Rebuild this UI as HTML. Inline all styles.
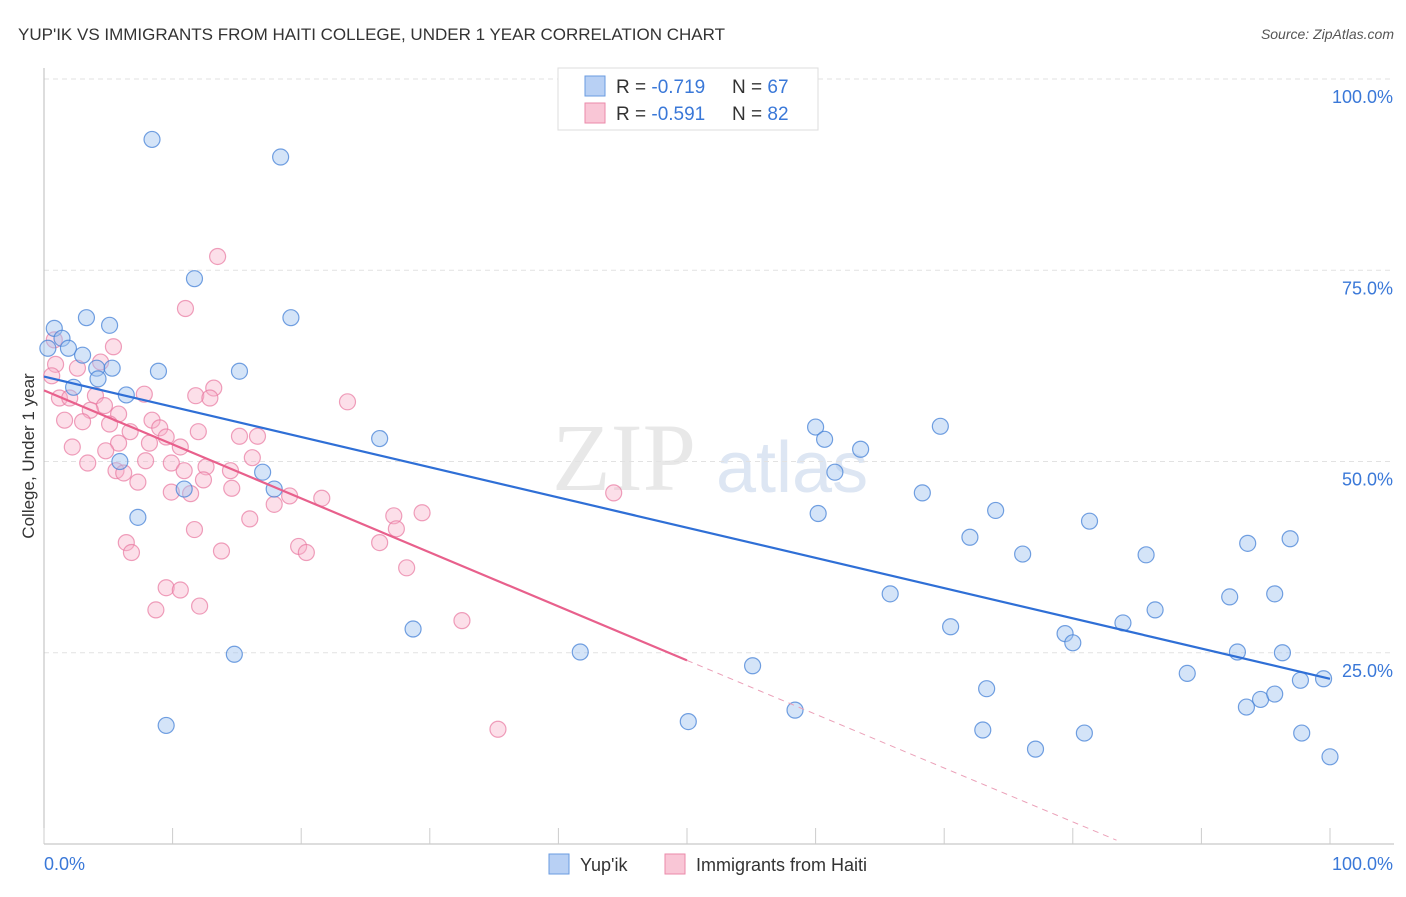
<!DOCTYPE html>
<html><head><meta charset="utf-8"><style>
body{margin:0;background:#fff;font-family:"Liberation Sans",sans-serif}
</style></head><body>
<svg id="c" width="1406" height="892" xmlns="http://www.w3.org/2000/svg">
<text x="18" y="40" font-size="17" fill="#333">YUP'IK VS IMMIGRANTS FROM HAITI COLLEGE, UNDER 1 YEAR CORRELATION CHART</text>
<text x="1394" y="39" font-size="14" fill="#555" font-style="italic" text-anchor="end">Source: ZipAtlas.com</text>
<text x="552" y="490" font-size="96" fill="#e8e8e8" font-family="Liberation Serif">ZIP</text>
<text x="716" y="492" font-size="72" fill="#dde6f3">atlas</text>
<text x="34" y="456" font-size="17" fill="#333" text-anchor="middle" transform="rotate(-90 34 456)">College, Under 1 year</text>
<g id="grid"></g><g id="pts"></g><g id="lines"></g>
<g>
<rect x="558" y="68" width="260" height="62" fill="#fff" stroke="#ddd"/>
<rect x="585" y="76" width="20" height="20" fill="#b8d0f4" stroke="#6a9be0"/>
<text x="616" y="93" font-size="19" fill="#333">R = <tspan fill="#3a78d8">-0.719</tspan></text>
<text x="732" y="93" font-size="19" fill="#333">N = <tspan fill="#3a78d8">67</tspan></text>
<rect x="585" y="103" width="20" height="20" fill="#f9c6d6" stroke="#eb8aaa"/>
<text x="616" y="120" font-size="19" fill="#333">R = <tspan fill="#3a78d8">-0.591</tspan></text>
<text x="732" y="120" font-size="19" fill="#333">N = <tspan fill="#3a78d8">82</tspan></text>
</g>
<g>
<rect x="549" y="854" width="20" height="20" fill="#b8d0f4" stroke="#6a9be0"/>
<text x="580" y="871" font-size="18" fill="#333">Yup'ik</text>
<rect x="665" y="854" width="20" height="20" fill="#f9c6d6" stroke="#eb8aaa"/>
<text x="696" y="871" font-size="18" fill="#333">Immigrants from Haiti</text>
</g>
</svg>
<script>
const yTicks=[100,75,50,25];
const xTickCount=[0,10,20,30,40,50,60,70,80,90,100];
const blueX=[8.4,18.4,11.7,19.2,3.3,5.1,0.8,1.4,0.3,1.9,3,4.1,5.3,8.9,15.2,4.2,2.3,6.4,26.1,5.9,17,10.9,17.9,7.3,14.8,9.5,28.7,41.7,50.1,55.1,58.4,60,60.7,60.2,61.5,63.5,65.8,68.3,69.7,70.5,72,73.3,73,74,76.1,77.1,79.4,80,80.9,81.3,83.9,85.7,86.4,88.9,92.2,92.8,93.6,93.5,94.6,95.7,95.7,96.3,96.9,97.7,97.8,99.5,100];
const blueY=[92.1,89.8,73.9,68.8,68.8,67.8,67.4,66.1,64.8,64.8,63.9,62.2,62.2,61.8,61.8,60.8,59.7,58.7,53,50,48.6,46.4,46.4,42.7,24.8,15.5,28.1,25.1,16,23.3,17.5,54.5,52.9,43.2,48.6,51.6,32.7,45.9,54.6,28.4,40.1,20.3,14.9,43.6,37.9,12.4,27.5,26.3,14.5,42.2,28.9,37.8,30.6,22.3,32.3,25.1,39.3,17.9,18.9,19.6,32.7,25,39.9,21.4,14.5,21.6,11.4];
const pinkX=[13.5,11,0.8,0.9,5.4,4.4,2.6,0.6,1.2,2,4,7.8,11.8,13.2,23.6,12.9,4.7,3.6,5.8,1.6,3,5.1,8.4,9,6.7,12,15.2,16.6,9.5,5.8,8.2,10.6,2.2,4.8,3.4,7.9,9.9,10.9,12.6,5.6,6.2,14.5,16.2,7.3,12.4,9.9,11.4,14.6,19.1,17.9,21.6,16,44.3,29.4,27.2,27.4,11.7,6.4,6.8,13.8,19.8,20.4,26.1,28.2,9.5,10.6,12.1,8.7,32.5,35.3];
const pinkY=[76.8,70,65.9,62.7,65,63,62.2,61.2,58.3,58.3,58.6,58.8,58.6,59.6,57.8,58.3,57.3,56.7,56.2,55.4,55.2,54.9,55.4,54.4,53.9,53.9,53.3,53.3,53.2,52.4,52.4,51.9,51.9,51.4,49.8,50.1,49.8,48.8,49.3,48.8,48.5,48.8,50.5,47.3,47.6,46,45.8,46.5,45.5,44.4,45.2,42.5,45.9,43.3,42.9,41.2,41.1,39.4,38.1,38.3,38.9,38.1,39.4,36.1,33.5,33.2,31.1,30.6,29.2,15];
const blueTrend=[[0,61.1],[100,21.6]];
const pinkTrend=[[0,59.3],[50,24]];
const pinkDash=[[50,24],[83.4,0.5]];
const X=v=>44+v*12.86, Y=v=>844-v*7.65;
const NS='http://www.w3.org/2000/svg';
function mk(t,a,p){const e=document.createElementNS(NS,t);for(const k in a)e.setAttribute(k,a[k]);p.appendChild(e);return e;}
const grid=document.getElementById('grid');
yTicks.forEach(t=>{
 const l=mk('line',{x1:44,x2:1394,y1:Y(t),y2:Y(t),stroke:'#e2e2e2','stroke-dasharray':'5,4'},grid);
 
 
 const tx=mk('text',{x:1393,y:Y(t)+24,'font-size':18,fill:'#3a78d8','text-anchor':'end'},grid);
 tx.textContent=t.toFixed(1)+'%';
 
 
});
mk('line',{x1:44,x2:44,y1:68,y2:844,stroke:'#bbb'},grid);
mk('line',{x1:44,x2:1394,y1:844,y2:844,stroke:'#bbb'},grid);
xTickCount.forEach(t=>{const l=mk('line',{x1:X(t),x2:X(t),y1:828,y2:844,stroke:'#ccc'},grid);
 
 });
let t0=mk('text',{x:44,y:870,'font-size':18,fill:'#3a78d8'},grid);t0.textContent='0.0%';


let t1=mk('text',{x:1393,y:870,'font-size':18,fill:'#3a78d8','text-anchor':'end'},grid);t1.textContent='100.0%';


const pts=document.getElementById('pts');
pinkX.forEach((x,i)=>{const c=mk('circle',{cx:X(x),cy:Y(pinkY[i]),r:8,fill:'rgba(247,175,199,0.4)',stroke:'rgba(232,120,160,0.7)','stroke-width':1.2},pts);
 
 });
blueX.forEach((x,i)=>{const c=mk('circle',{cx:X(x),cy:Y(blueY[i]),r:8,fill:'rgba(160,195,240,0.45)',stroke:'rgba(70,130,215,0.75)','stroke-width':1.2},pts);
 
 });
const lines=document.getElementById('lines');
function ln(p,col,w,dash,name){const l=mk('line',{x1:X(p[0][0]),y1:Y(p[0][1]),x2:X(p[1][0]),y2:Y(p[1][1]),stroke:col,'stroke-width':w},lines);if(dash)l.setAttribute('stroke-dasharray',dash);
 
 }
ln(blueTrend,'#2f6fd6',2.2,null,'yupik-trendline');
ln(pinkTrend,'#e8608c',2.2,null,'haiti-trendline');
ln(pinkDash,'#eba0b8',1,'6,5','haiti-trendline-extension');
</script>
</body></html>
